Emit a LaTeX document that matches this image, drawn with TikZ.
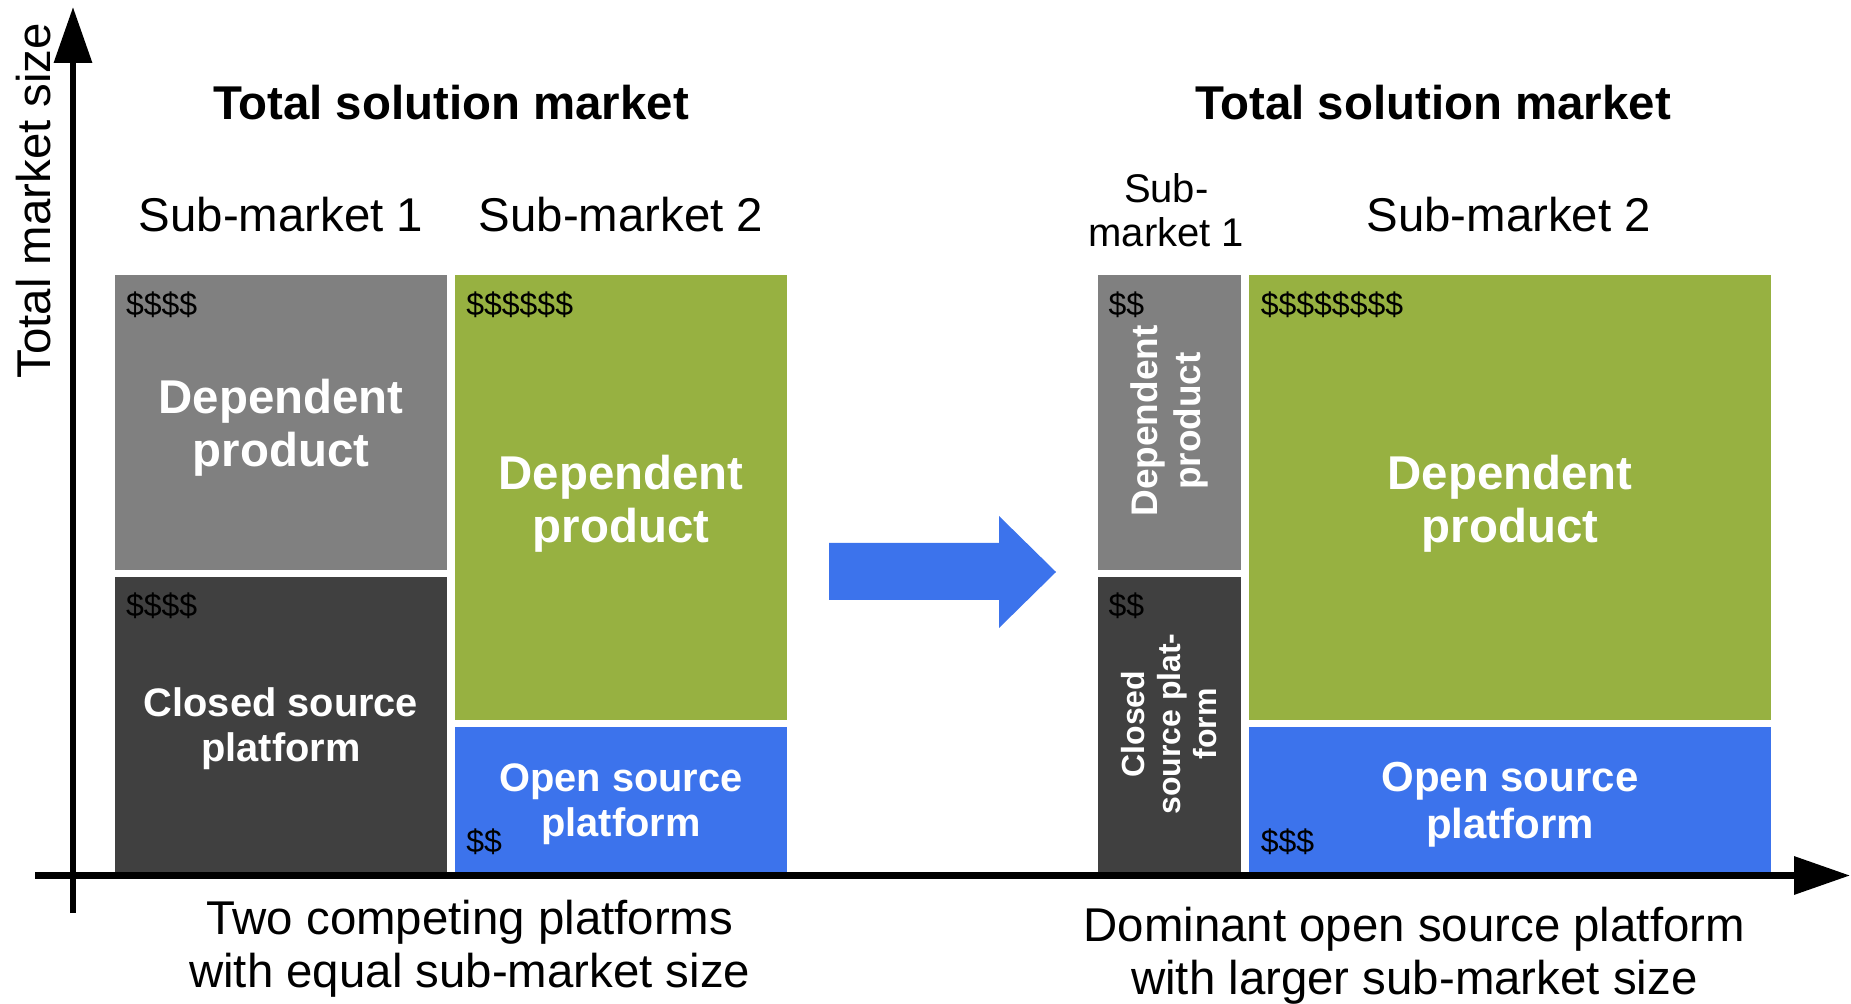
\documentclass[tikz,border=0pt]{standalone}
\usepackage{fontspec}
\setmainfont{Liberation Sans}
\usetikzlibrary{arrows.meta}
\definecolor{boxgrey}{RGB}{128,128,128}
\definecolor{boxdark}{RGB}{64,64,64}
\definecolor{boxgreen}{RGB}{151,177,65}
\definecolor{boxblue}{RGB}{60,115,236}
\tikzset{
  lbl/.style={inner sep=0pt, outer sep=0pt, align=center, font=\fontsize{23.7}{26.5}\selectfont},
  ttl/.style={lbl, font=\fontsize{23.7}{26.5}\selectfont\bfseries},
  inbig/.style={lbl, text=white, font=\fontsize{23.7}{26.5}\selectfont\bfseries},
  insmall/.style={lbl, text=white, font=\fontsize{19.9}{22.4}\selectfont\bfseries},
  dollar/.style={inner sep=0pt, outer sep=0pt, anchor=west, font=\fontsize{16}{18}\selectfont},
  axisline/.style={line width=3.25pt, -{Triangle[length=28pt,width=18.5pt]}},
}
\begin{document}
\begin{tikzpicture}[x=0.5pt,y=-0.5pt]
\useasboundingbox (0,0) rectangle (1851,1004);
% boxes left
\fill[boxgrey]  (114.5,275) rectangle (447.4,570);
\fill[boxdark]  (114.5,577) rectangle (447.4,872);
\fill[boxgreen] (454.5,275) rectangle (787.4,720);
\fill[boxblue]  (454.5,727) rectangle (787.4,872);
% boxes right
\fill[boxgrey]  (1098,275) rectangle (1240.7,570);
\fill[boxdark]  (1098,577) rectangle (1240.7,872);
\fill[boxgreen] (1249,275) rectangle (1771,720);
\fill[boxblue]  (1249,727) rectangle (1771,872);
% big arrow
\fill[boxblue] (829,543) -- (999,543) -- (999,516) -- (1056,572) -- (999,628) -- (999,600) -- (829,600) -- cycle;
% axes
\coordinate (ybot) at (73,913);
\coordinate (ytop) at (73,7);
\coordinate (xleft) at (35,875.5);
\coordinate (xright) at (1850,875.5);
\draw[axisline] (ybot) -- (ytop);
\draw[axisline] (xleft) -- (xright);
% axis label
\node[lbl, rotate=90] (ylab) at (33.6,200.7) {Total market size};
% titles
\node[ttl] (titleL) at (451,102.7) {Total solution market};
\node[ttl] (titleR) at (1433,102.7) {Total solution market};
\node[lbl] (subL1) at (281,215) {Sub-market 1};
\node[lbl] (subL2) at (621,215) {Sub-market 2};
\node[lbl, font=\fontsize{20}{22}\selectfont] (subR1) at (1166.3,210.7) {Sub-\\market 1};
\node[lbl] (subR2) at (1508.7,215) {Sub-market 2};
% box texts left
\node[inbig] (depL) at (281,428) {Dependent\\product};
\node[insmall] (closedL) at (281,729) {Closed source\\platform};
\node[inbig] (depL2) at (621,503.6) {Dependent\\product};
\node[insmall] (openL) at (621,804.5) {Open source\\platform};
% box texts right
\node[lbl, text=white, rotate=90, font=\fontsize{18.5}{21.8}\selectfont\bfseries] (depR1) at (1169.4,421) {Dependent\\product};
\node[lbl, text=white, rotate=90, font=\fontsize{16}{18}\selectfont\bfseries] (closedR) at (1169.4,724) {Closed\\source plat-\\form};
\node[inbig] (depR2) at (1510,503.6) {Dependent\\product};
\node[lbl, text=white, font=\fontsize{21}{23.5}\selectfont\bfseries] (openR) at (1510,805) {Open source\\platform};
% dollars
\node[dollar] (dA) at (126,304.6) {\$\$\$\$};
\node[dollar] (dB) at (126,605.6) {\$\$\$\$};
\node[dollar] (dC) at (466.3,304.6) {\$\$\$\$\$\$};
\node[dollar] (dD) at (466.3,841.7) {\$\$};
\node[dollar] (dE) at (1108.5,304.6) {\$\$};
\node[dollar] (dF) at (1108.5,605.6) {\$\$};
\node[dollar] (dG) at (1260.8,304.6) {\$\$\$\$\$\$\$\$};
\node[dollar] (dH) at (1260.8,841.7) {\$\$\$};
% bottom captions
\node[lbl] (capL) at (469.8,948.8) {Two competing platforms\\with equal sub-market size};
\node[lbl] (capR) at (1414.3,955.8) {Dominant open source platform\\with larger sub-market size};
\end{tikzpicture}
\end{document}
